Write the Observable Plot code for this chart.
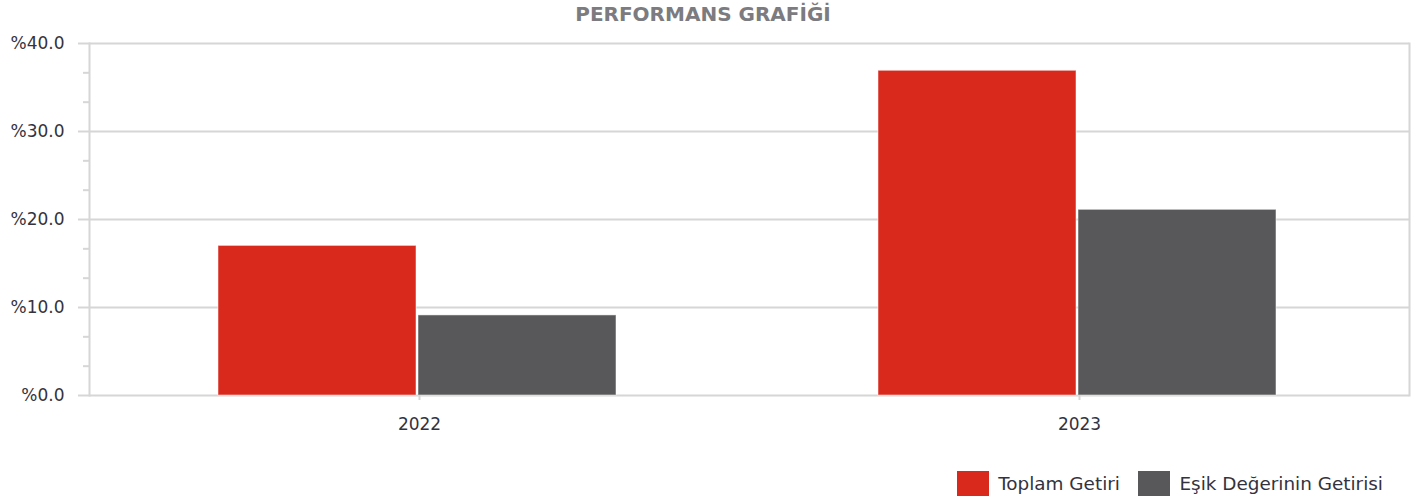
<!DOCTYPE html>
<html>
<head>
<meta charset="utf-8">
<script src="https://cdn.jsdelivr.net/npm/d3@7"></script>
<script src="https://cdn.jsdelivr.net/npm/@observablehq/plot@0.6"></script>
<style>
  html, body { margin: 0; padding: 0; background: #fff; }
  #wrap { position: relative; width: 1417px; height: 499px; overflow: hidden; font-family: "DejaVu Sans", sans-serif; }
  #title { position: absolute; top: 2px; left: 703px; transform: translateX(-50%); white-space: nowrap;
           font-family: "DejaVu Sans", sans-serif; font-weight: bold; font-size: 20px; color: #7b7b80; }
  #chart { position: absolute; top: 30px; left: 0; }
  #legend { position: absolute; top: 467px; left: 957px; white-space: nowrap; }
</style>
</head>
<body>
<div id="wrap">
  <div id="title">PERFORMANS GRAFİĞİ</div>
  <div id="chart"></div>
  <div id="legend"></div>
</div>
<script>
const years = ["2022", "2023"];
const series = ["Toplam Getiri", "Eşik Değerinin Getirisi"];
const toplamGetiri = [17.0, 36.9];
const esikGetiri = [9.1, 21.1];
const colors = ["#d9291d", "#58585a"];
const yTicks = [0, 10, 20, 30, 40];
const yMinorTicks = d3.range(0, 40.001, 10 / 3).filter(v => Math.abs(v / 10 - Math.round(v / 10)) > 1e-6);

const data = years.flatMap((yr, i) => [
  {year: yr, series: series[0], value: toplamGetiri[i]},
  {year: yr, series: series[1], value: esikGetiri[i]}
]);

const gridColor = "#d6d6d6";
const textColor = "#333340";

const chart = Plot.plot({
  width: 1417,
  height: 420,
  marginLeft: 88,
  marginRight: 8,
  marginTop: 13,
  marginBottom: 55,
  style: {fontFamily: "DejaVu Sans, sans-serif", fontSize: "17px", color: textColor, background: "transparent"},
  fx: {domain: years, padding: 0, label: null, axis: null},
  x: {domain: series, axis: null, paddingInner: 0.01, paddingOuter: 0.65},
  y: {domain: [0, 40], axis: null, label: null},
  color: {domain: series, range: colors},
  marks: [
    Plot.gridY(yTicks, {stroke: gridColor, strokeWidth: 2, strokeOpacity: 1}),
    Plot.frame({anchor: "left", facetAnchor: "left", stroke: gridColor, strokeWidth: 2}),
    Plot.frame({anchor: "right", facetAnchor: "right", stroke: gridColor, strokeWidth: 2}),
    Plot.barY(data, {fx: "year", x: "series", y: "value", fill: "series", dx: -2, stroke: "#ffffff", strokeOpacity: 0.5, strokeWidth: 1}),
    Plot.axisY(yTicks, {tickSize: 11, tickPadding: 14, tickFormat: d => "%" + d.toFixed(1), stroke: gridColor, strokeWidth: 2, fill: textColor, label: null}),
    Plot.axisY(yMinorTicks, {tickSize: 6, tickFormat: () => "", stroke: gridColor, strokeWidth: 2, label: null}),
    Plot.axisFx({anchor: "bottom", tickSize: 5, tickPadding: 17, stroke: gridColor, strokeWidth: 2, fill: textColor, label: null})
  ]
});
document.getElementById("chart").appendChild(chart);

const legend = Plot.legend({
  color: {type: "categorical", domain: series, range: colors},
  swatchWidth: 32,
  swatchHeight: 25,
  style: {fontFamily: "DejaVu Sans, sans-serif", fontSize: "18.4px", color: textColor}
});
document.getElementById("legend").appendChild(legend);
</script>
</body>
</html>
